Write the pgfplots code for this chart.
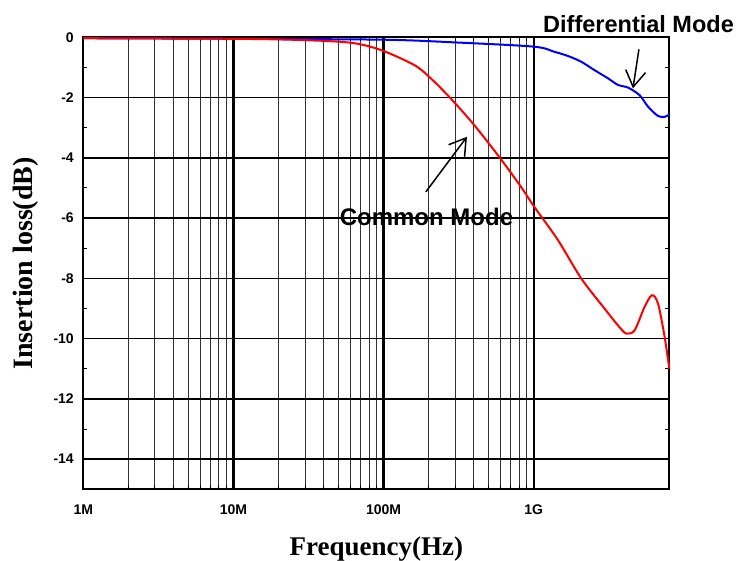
\documentclass[border=0pt]{standalone}
\usepackage{fontspec}
\setmainfont{Liberation Serif}
\newfontfamily\ticksfont{Liberation Sans}
\usepackage{pgfplots}
\pgfplotsset{compat=1.18}
\usetikzlibrary{arrows.meta}

\begin{document}
\begin{tikzpicture}
\begin{axis}[
    at={(0pt,0pt)}, anchor=south west,
    scale only axis, width=586pt, height=452pt,
    xmode=log,
    xmin=1e6, xmax=8e9, ymin=-15, ymax=0,
    xtick={1e6,1e7,1e8,1e9},
    xticklabels={1M,10M,100M,1G},
    ytick={0,-2,-4,-6,-8,-10,-12,-14},
    yticklabels={0,-2,-4,-6,-8,-10,-12,-14},
    minor ytick={-1,-3,-5,-7,-9,-11,-13},
    xmajorgrids, xminorgrids, ymajorgrids,
    major x grid style={black, line width=2.3pt},
    major y grid style={black, line width=1.6pt},
    minor x grid style={black!80, line width=1pt},
    axis line style={black, line width=2pt},
    tick align=inside,
    major tick length=0pt,
    minor tick length=4pt,
    minor tick style={black, line width=1pt},
    tick label style={font=\ticksfont\bfseries\fontsize{14}{14}\selectfont},
    xticklabel style={anchor=base, yshift=-25pt},
    yticklabel style={anchor=east, xshift=-6pt},
    xlabel={Frequency(Hz)},
    ylabel={Insertion loss(dB)},
    xlabel style={font=\bfseries\fontsize{27}{27}\selectfont,
        at={(axis description cs:0.5,-0.1454)}, anchor=base},
    ylabel style={font=\bfseries\fontsize{28}{28}\selectfont,
        at={(axis description cs:-0.099,0.5)}, anchor=center, rotate=0},
    clip=false,
]
% Differential mode
\addplot[blue, line width=2pt, smooth, tension=0.5] coordinates {
    (1e6,-0.03) (1e7,-0.05) (1e8,-0.08) (3e8,-0.17) (1e9,-0.31)
    (1.37e9,-0.48) (1.69e9,-0.62) (2.07e9,-0.81) (2.54e9,-1.09)
    (3.12e9,-1.36) (3.64e9,-1.58) (4.25e9,-1.67) (5.07e9,-1.92)
    (5.77e9,-2.30) (6.72e9,-2.61) (7.45e9,-2.64) (8e9,-2.56)
};
% Common mode
\addplot[red, line width=2pt, smooth, tension=0.5] coordinates {
    (1e6,-0.03) (1e7,-0.05) (2.8e7,-0.09) (6.04e7,-0.18) (9.57e7,-0.42)
    (1.6e8,-0.92) (2.06e8,-1.36) (2.8e8,-2.03) (4.01e8,-2.91)
    (5.89e8,-3.97) (8.22e8,-4.96) (1.01e9,-5.63) (1.45e9,-6.73)
    (2.07e9,-8.00) (2.96e9,-9.00) (3.64e9,-9.56) (4.13e9,-9.83)
    (4.70e9,-9.72) (5.47e9,-8.95) (6.13e9,-8.56) (6.73e9,-8.84)
    (7.45e9,-9.95) (8e9,-11.0)
};
\node[anchor=base, font=\ticksfont\bfseries\fontsize{23.5}{24}\selectfont, inner sep=0pt]
    at (axis cs:4.99e9,0.143) {Differential Mode};
\node[anchor=base, font=\ticksfont\bfseries\fontsize{24}{24}\selectfont, inner sep=0pt]
    at (axis cs:1.93e8,-6.236) {Common Mode};
\draw[line width=1.5pt, -{Straight Barb[length=16pt, width=20pt, line width=1.5pt]}]
    (axis cs:5.02e9,-0.399) -- (axis cs:4.58e9,-1.694);
\draw[line width=1.5pt, -{Straight Barb[length=16pt, width=20pt, line width=1.5pt]}]
    (axis cs:1.911e8,-5.13) -- (axis cs:3.592e8,-3.302);
\end{axis}
\pgfresetboundingbox
\path[use as bounding box] (-83.3pt,-70.7pt) rectangle (659.7pt,489.3pt);
\end{tikzpicture}
\end{document}
